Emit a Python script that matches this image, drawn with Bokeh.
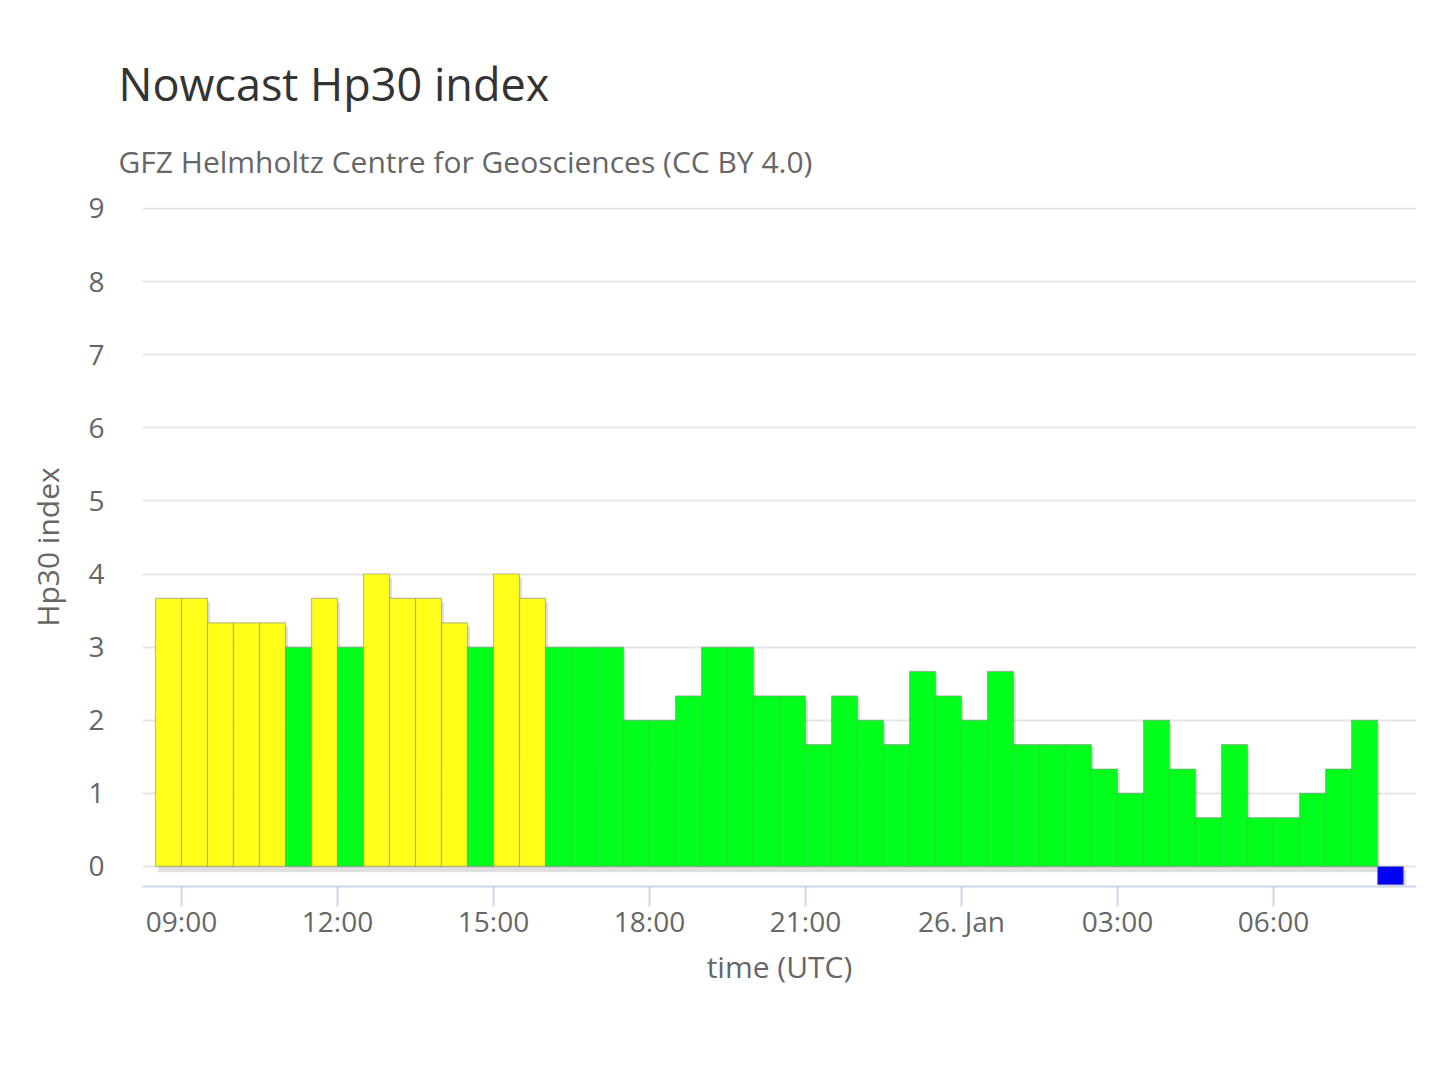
from bokeh.plotting import figure
from bokeh.models import Title, FixedTicker, Range1d, ColumnDataSource
from bokeh.embed import file_html
from bokeh.resources import INLINE

# Hp30 values, one per 30-minute interval starting 25 Jan 08:30 UTC
hp30 = [3.667, 3.667, 3.333, 3.333, 3.333, 3.0, 3.667, 3.0, 4.0, 3.667,
        3.667, 3.333, 3.0, 4.0, 3.667, 3.0, 3.0, 3.0, 2.0, 2.0,
        2.333, 3.0, 3.0, 2.333, 2.333, 1.667, 2.333, 2.0, 1.667, 2.667,
        2.333, 2.0, 2.667, 1.667, 1.667, 1.667, 1.333, 1.0, 2.0, 1.333,
        0.667, 1.667, 0.667, 0.667, 1.0, 1.333, 2.0, -0.25]
first_start_hour = 8.5          # hours since 25 Jan 00:00 UTC
interval_hours = 0.5
tick_hours = [9, 12, 15, 18, 21, 24, 27, 30]
tick_labels = ["09:00", "12:00", "15:00", "18:00", "21:00", "26. Jan", "03:00", "06:00"]
y_ticks = [0, 1, 2, 3, 4, 5, 6, 7, 8, 9]

starts = [first_start_hour + interval_hours * i for i in range(len(hp30))]
ends = [s + interval_hours for s in starts]


def color_for(v):
    if v < 0:
        return "#0000ff"
    if v >= 3.3:
        return "#ffff1a"
    return "#00ff1a"


colors = [color_for(v) for v in hp30]
tops = [max(v, 0) for v in hp30]
bottoms = [min(v, 0) for v in hp30]

src = ColumnDataSource(dict(left=starts, right=ends, top=tops, bottom=bottoms, color=colors))

# shadow (slightly offset right/down)
sh_dx = 0.05
sh_dy = 0.05
shadow = ColumnDataSource(dict(left=[s + sh_dx for s in starts], right=[e + sh_dx for e in ends],
                               top=[t - sh_dy for t in tops], bottom=[b - sh_dy - 0.03 for b in bottoms]))

FONT = "Open Sans"

p = figure(frame_width=1274, frame_height=679, output_backend="svg", toolbar_location=None,
           x_range=Range1d(8.25, 32.75), y_range=Range1d(-0.274, 9.013),
           min_border_left=142, min_border_right=16, min_border_top=207, min_border_bottom=150,
           title=None)
p.outline_line_color = None
p.background_fill_color = "white"
p.border_fill_color = "white"

p.quad(left="left", right="right", top="top", bottom="bottom", source=shadow,
       fill_color="black", fill_alpha=0.12, line_color=None)
p.quad(left="left", right="right", top="top", bottom="bottom", source=src,
       fill_color="color", line_color="#8c8c8c", line_alpha=0.55, line_width=1.2)

# titles
sub = Title(text="GFZ Helmholtz Centre for Geosciences (CC BY 4.0)", align="left",
            text_font=FONT, text_font_size="30px", text_color="#666666",
            text_font_style="normal", offset=-24, standoff=51)
p.add_layout(sub, "above")
main = Title(text="Nowcast Hp30 index", align="left", text_font=FONT, text_font_size="45px",
             text_color="#333333", text_font_style="normal", offset=-24, standoff=0)
p.add_layout(main, "above")

# x axis
xa = p.xaxis[0]
xa.ticker = FixedTicker(ticks=tick_hours)
xa.major_label_overrides = {h: lab for h, lab in zip(tick_hours, tick_labels)}
xa.axis_line_color = "#ccd6eb"
xa.axis_line_width = 2
xa.major_tick_line_color = "#ccd6eb"
xa.major_tick_line_width = 2
xa.major_tick_out = 20
xa.major_tick_in = 0
xa.minor_tick_line_color = None
xa.major_label_text_font = FONT
xa.major_label_text_font_size = "28px"
xa.major_label_text_color = "#666666"
xa.major_label_standoff = -5
xa.axis_label = "time (UTC)"
xa.axis_label_text_font = FONT
xa.axis_label_text_font_size = "30px"
xa.axis_label_text_color = "#666666"
xa.axis_label_text_font_style = "normal"
xa.axis_label_standoff = 3

# y axis
ya = p.yaxis[0]
ya.ticker = FixedTicker(ticks=y_ticks)
ya.axis_line_color = None
ya.major_tick_line_color = None
ya.minor_tick_line_color = None
ya.major_tick_out = 0
ya.major_tick_in = 0
ya.major_label_text_font = FONT
ya.major_label_text_font_size = "28px"
ya.major_label_text_color = "#666666"
ya.major_label_standoff = 38
ya.axis_label = "Hp30 index"
ya.axis_label_text_font = FONT
ya.axis_label_text_font_size = "30px"
ya.axis_label_text_color = "#666666"
ya.axis_label_text_font_style = "normal"
ya.axis_label_standoff = 17

p.xgrid.grid_line_color = None
p.ygrid.grid_line_color = "#e6e6e6"
p.ygrid.grid_line_width = 2
p.ygrid.ticker = FixedTicker(ticks=y_ticks)

open("out.html", "w").write(file_html(p, INLINE))
